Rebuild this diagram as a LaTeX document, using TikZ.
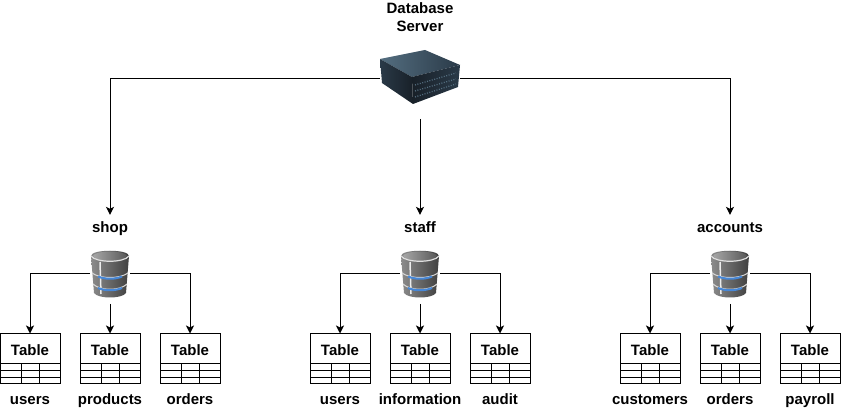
\documentclass[tikz,border=0pt]{standalone}
\usepackage{fontspec}
\setmainfont{Liberation Sans}
\usetikzlibrary{arrows.meta}
\usetikzlibrary{calc}

\definecolor{serverdark}{RGB}{24,32,40}
\definecolor{servermid}{RGB}{42,58,72}
\definecolor{serverlight}{RGB}{84,110,128}
\definecolor{dbband}{RGB}{70,135,215}

\tikzset{
	icon/.style = {inner sep=0, outer sep=0, minimum width=#1},
	title/.style = {font=\bfseries\fontsize{15}{18}\selectfont, inner sep=0, text height=11, text depth=0, minimum height=24},
	tablebox/.style = {draw, line width=1, inner sep=0, outer sep=0, minimum width=60, minimum height=50},
	link/.style = {line width=1, -{Stealth[length=8pt, width=8pt, inset=2pt]}},
}

% stacked database drum, centred on a node
\newcommand{\dbicon}[1]{
	\begin{scope}[shift={(#1.center)}]
		\path[left color=gray!90, right color=black!75, middle color=black!60] (-19,-18) .. controls (-19,-25) and (19,-25) .. (19,-18) -- (16,19) .. controls (12,25) and (-12,25) .. (-16,19) -- cycle;
		\path[left color=black!35, right color=black!65] (-17,-18) .. controls (-15,-24) and (15,-24) .. (17,-18) .. controls (13,-11) and (-13,-11) .. (-17,-18) -- cycle;
		\draw[white!75!gray, line width=1.2] (-19,-18) .. controls (-14,-11) and (14,-11) .. (19,-18);
		\draw[white!85!gray, line width=1.5] (-10,-12) -- (-9,20);
		\draw[gray!30, line width=1] (-18,-1) .. controls (-10,5) and (10,5) .. (18,-1);
		\draw[gray!30, line width=1] (-17,10) .. controls (-10,17) and (10,17) .. (17,10);
		\draw[dbband, line width=2] (-12,2.5) .. controls (-5,5.5) and (5,5.5) .. (12,2.5);
		\draw[dbband, line width=2] (-12,14) .. controls (-5,17) and (5,17) .. (12,14);
	\end{scope}
}

% table with its three columns and rows
\newcommand{\dbtable}[2]{
	\node[tablebox] (#1) at (#2) {};
	\node[font=\bfseries\fontsize{15}{18}\selectfont] (#1text) at ($(#1.north)+(0,17)$) {Table};
	\draw[line width=1] ($(#1.north west)+(0,30)$) -- ($(#1.north east)+(0,30)$);
	\draw[line width=1] ($(#1.north west)+(0,37)$) -- ($(#1.north east)+(0,37)$);
	\draw[line width=1] ($(#1.north west)+(0,44)$) -- ($(#1.north east)+(0,44)$);
	\draw[line width=1] ($(#1.north west)+(21,30)$) -- ($(#1.south west)+(21,0)$);
	\draw[line width=1] ($(#1.north west)+(39,30)$) -- ($(#1.south west)+(39,0)$);
}

\begin{document}
\begin{tikzpicture}[x=1pt, y=-1pt]
	\useasboundingbox (0,0) rectangle (841,411);

	\node[font=\bfseries\fontsize{15}{18}\selectfont, align=center, inner sep=0] (serverlabel) at (420,17) {Database\\Server};
	\node[icon=80, minimum height=80] (server) at (420,79) {};
	\begin{scope}[shift={(server.center)}]
		\path[left color=serverlight, right color=servermid] (-40,-20) -- (5,-29) -- (40,-14) -- (-8,-2) -- cycle;
		\path[left color=servermid, right color=serverdark] (-40,-20) -- (-8,-2) -- (-7,25) -- (-38,4) -- cycle;
		\path[left color=serverdark, right color=servermid] (-8,-2) -- (40,-14) -- (38,8) -- (-7,25) -- cycle;
		\draw[serverlight, line width=1.2, dash pattern=on 1pt off 1.5pt] (-5,6) -- (36,-6);
		\draw[serverlight, line width=1.2, dash pattern=on 1pt off 1.5pt] (-5,12) -- (36,0);
		\draw[serverlight, line width=1.2, dash pattern=on 1pt off 1.5pt] (-5,18) -- (36,5);
	\end{scope}

	% the three databases
	\node[title] (shop) at (110,227) {shop};
	\node[title] (staff) at (420,227) {staff};
	\node[title] (accounts) at (730,227) {accounts};
	\node[icon=40, minimum height=60] (shopdb) at (110,274) {};
	\node[icon=40, minimum height=60] (staffdb) at (420,274) {};
	\node[icon=40, minimum height=60] (accountsdb) at (730,274) {};
	\dbicon{shopdb}
	\dbicon{staffdb}
	\dbicon{accountsdb}

	\dbtable{shopa}{30,358.5}
	\dbtable{shopb}{110,358.5}
	\dbtable{shopc}{190,358.5}
	\dbtable{staffa}{340,358.5}
	\dbtable{staffb}{420,358.5}
	\dbtable{staffc}{500,358.5}
	\dbtable{accountsa}{650,358.5}
	\dbtable{accountsb}{730,358.5}
	\dbtable{accountsc}{810,358.5}

	\node[title] (shopalabel) at (30,399) {users};
	\node[title] (shopblabel) at (110,399) {products};
	\node[title] (shopclabel) at (190,399) {orders};
	\node[title] (staffalabel) at (340,399) {users};
	\node[title] (staffblabel) at (420,399) {information};
	\node[title] (staffclabel) at (500,399) {audit};
	\node[title] (accountsalabel) at (650,399) {customers};
	\node[title] (accountsblabel) at (730,399) {orders};
	\node[title] (accountsclabel) at (810,399) {payroll};

	\draw[link] (server.west) -| (shop.north);
	\draw[link] (server.south) -- (staff.north);
	\draw[link] (server.east) -| (accounts.north);

	\draw[link] (shopdb.west) -| (shopa.north);
	\draw[link] (shopdb.south) -- (shopb.north);
	\draw[link] (shopdb.east) -| (shopc.north);
	\draw[link] (staffdb.west) -| (staffa.north);
	\draw[link] (staffdb.south) -- (staffb.north);
	\draw[link] (staffdb.east) -| (staffc.north);
	\draw[link] (accountsdb.west) -| (accountsa.north);
	\draw[link] (accountsdb.south) -- (accountsb.north);
	\draw[link] (accountsdb.east) -| (accountsc.north);
\end{tikzpicture}
\end{document}
